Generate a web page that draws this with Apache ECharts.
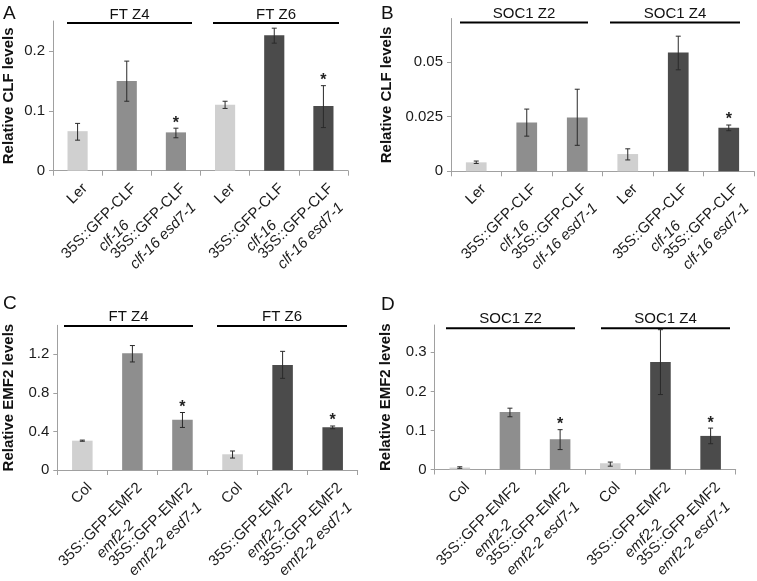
<!DOCTYPE html>
<html><head><meta charset="utf-8">
<script src="https://cdn.jsdelivr.net/npm/echarts@6/dist/echarts.min.js"></script>
<style>html,body{margin:0;padding:0;background:#fff}#c{width:757px;height:581px}</style>
</head><body><div id="c"></div><script>
// ---------- DATA ----------
const catsCLF = ["Ler", "35S::GFP-CLF\nclf-16", "35S::GFP-CLF\nclf-16 esd7-1", "Ler", "35S::GFP-CLF\nclf-16", "35S::GFP-CLF\nclf-16 esd7-1"];
const catsEMF2 = ["Col", "35S::GFP-EMF2\nemf2-2", "35S::GFP-EMF2\nemf2-2 esd7-1", "Col", "35S::GFP-EMF2\nemf2-2", "35S::GFP-EMF2\nemf2-2 esd7-1"];
const groupsFT = ["FT Z4", "FT Z6"];
const groupsSOC1 = ["SOC1 Z2", "SOC1 Z4"];

const valuesA = [0.066, 0.150, 0.064, 0.110, 0.226, 0.108];
const errLowA = [0.051, 0.116, 0.055, 0.104, 0.213, 0.072];
const errHighA = [0.079, 0.183, 0.071, 0.116, 0.238, 0.142];
const starsA = [0, 0, 1, 0, 0, 1];
const ticksA = [0, 0.1, 0.2];

const valuesB = [0.0041, 0.0224, 0.0247, 0.0079, 0.0544, 0.0200];
const errLowB = [0.0036, 0.0161, 0.0119, 0.0052, 0.0465, 0.0186];
const errHighB = [0.0047, 0.0285, 0.0376, 0.0103, 0.0619, 0.0212];
const starsB = [0, 0, 0, 0, 0, 1];
const ticksB = [0, 0.025, 0.05];

const valuesC = [0.304, 1.21, 0.52, 0.163, 1.088, 0.442];
const errLowC = [0.298, 1.12, 0.441, 0.124, 0.95, 0.428];
const errHighC = [0.31, 1.29, 0.596, 0.197, 1.23, 0.456];
const starsC = [0, 0, 1, 0, 0, 1];
const ticksC = [0, 0.4, 0.8, 1.2];

const valuesD = [0.005, 0.147, 0.0775, 0.016, 0.275, 0.086];
const errLowD = [0.003, 0.135, 0.051, 0.0085, 0.192, 0.066];
const errHighD = [0.007, 0.157, 0.102, 0.019, 0.358, 0.106];
const starsD = [0, 0, 1, 0, 0, 1];
const ticksD = [0, 0.1, 0.2, 0.3];

// ---------- LAYOUT / STYLE ----------
const FONT = '"Liberation Sans", Arial, sans-serif';
const shades = ['#d0d0d0', '#8e8e8e', '#8e8e8e', '#d0d0d0', '#4b4b4b', '#4b4b4b'];
const panels = [
  {letter:'A', cats:catsCLF, groups:groupsFT, v:valuesA, lo:errLowA, hi:errHighA, st:starsA, ticks:ticksA, max:0.25, title:'Relative CLF levels',
   grid:{left:53, top:21, width:295, height:149.7}, lx:3, ly:4, nameGap:37,
   gl:[[67,192],[213,339]], gy:23, gty:15},
  {letter:'B', cats:catsCLF, groups:groupsSOC1, v:valuesB, lo:errLowB, hi:errHighB, st:starsB, ticks:ticksB, max:0.07, title:'Relative CLF levels',
   grid:{left:451, top:18.5, width:303, height:152.8}, lx:381, ly:4, nameGap:57,
   gl:[[460,588],[610,740]], gy:22.5, gty:14},
  {letter:'C', cats:catsEMF2, groups:groupsFT, v:valuesC, lo:errLowC, hi:errHighC, st:starsC, ticks:ticksC, max:1.5, title:'Relative EMF2 levels',
   grid:{left:57.3, top:325.3, width:300.4, height:144.7}, lx:3, ly:294, nameGap:41,
   gl:[[64,193],[217,347]], gy:326, gty:317},
  {letter:'D', cats:catsEMF2, groups:groupsSOC1, v:valuesD, lo:errLowD, hi:errHighD, st:starsD, ticks:ticksD, max:0.37, title:'Relative EMF2 levels',
   grid:{left:434.7, top:325, width:301, height:144.5}, lx:381, ly:295, nameGap:41,
   gl:[[446,575],[601,730]], gy:328.3, gty:319}
];

const axisColor = '#a0a0a0';
const grids = [], xAxes = [], yAxes = [], series = [], graphics = [];

function labelFmt(v) {
  const p = v.split('\n');
  if (p.length === 1) return '{n|' + p[0] + '}';
  return '{n|' + p[0] + '}\n{i|' + p[1] + '}';
}

function errRender(params, api) {
  const x = api.value(0), lo = api.value(1), hi = api.value(2), star = api.value(3);
  const a = api.coord([x, lo]), b = api.coord([x, hi]);
  const h = 2.5;
  const st = {stroke:'#2a2a2a', lineWidth:1};
  const ch = [
    {type:'line', shape:{x1:a[0], y1:a[1], x2:b[0], y2:b[1]}, style:st},
    {type:'line', shape:{x1:a[0]-h, y1:a[1], x2:a[0]+h, y2:a[1]}, style:st},
    {type:'line', shape:{x1:b[0]-h, y1:b[1], x2:b[0]+h, y2:b[1]}, style:st}
  ];
  if (star) ch.push({type:'text', style:{text:'*', x:b[0], y:b[1]+3, align:'center', verticalAlign:'bottom', font:'bold 16px ' + FONT, fill:'#222'}});
  return {type:'group', children:ch};
}

const labStyle = {fontSize:15, fontFamily:FONT, color:'#1a1a1a', lineHeight:21, align:'center'};

panels.forEach((p, i) => {
  grids.push(Object.assign({containLabel:false, outerBoundsMode:'none'}, p.grid));
  xAxes.push({
    type:'category', gridIndex:i, data:p.cats,
    axisLine:{lineStyle:{color:axisColor, width:1}},
    axisTick:{show:true, length:5, lineStyle:{color:axisColor}},
    axisLabel:{interval:0, rotate:45, margin:8, verticalAlign:'top', align:'right', formatter:labelFmt,
      hideOverlap:false,
      rich:{
        n:Object.assign({}, labStyle),
        i:Object.assign({fontStyle:'italic'}, labStyle)
      }}
  });
  yAxes.push({
    type:'value', gridIndex:i, min:0, max:p.max,
    splitLine:{show:false},
    axisLine:{show:true, lineStyle:{color:axisColor, width:1}},
    axisTick:{show:true, length:4, customValues:p.ticks, lineStyle:{color:axisColor}},
    axisLabel:{customValues:p.ticks, fontSize:15, fontFamily:FONT, color:'#1a1a1a', margin:8},
    name:p.title, nameLocation:'middle', nameGap:p.nameGap, nameMoveOverlap:false,
    nameTextStyle:{fontSize:15, fontWeight:'bold', fontFamily:FONT, color:'#111'}
  });
  series.push({
    type:'bar', xAxisIndex:i, yAxisIndex:i, barWidth:'41%', silent:true,
    data:p.v.map((v, k) => ({value:v, itemStyle:{color:shades[k]}}))
  });
  series.push({
    type:'custom', xAxisIndex:i, yAxisIndex:i, silent:true, z:5,
    renderItem:errRender,
    data:p.v.map((v, k) => [k, p.lo[k], p.hi[k], p.st[k]])
  });
  graphics.push({type:'text', left:p.lx, top:p.ly, style:{text:p.letter, font:'19px ' + FONT, fill:'#111'}});
  p.gl.forEach((seg, g) => {
    graphics.push({type:'line', shape:{x1:seg[0], y1:p.gy, x2:seg[1], y2:p.gy}, style:{stroke:'#000', lineWidth:2}});
    graphics.push({type:'text', x:(seg[0]+seg[1])/2, y:p.gty, style:{text:p.groups[g], font:'15px ' + FONT, fill:'#111', align:'center', verticalAlign:'middle'}});
  });
});

const chart = echarts.init(document.getElementById('c'), null, {renderer:'canvas'});
chart.setOption({
  backgroundColor:'#fff', animation:false,
  grid:grids, xAxis:xAxes, yAxis:yAxes, series:series, graphic:graphics
});
</script></body></html>
